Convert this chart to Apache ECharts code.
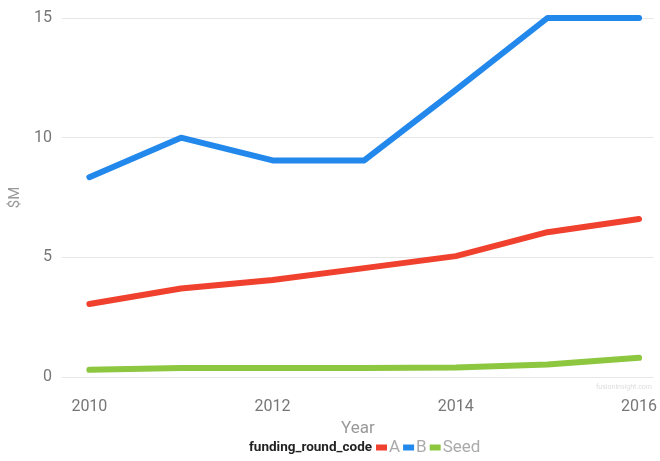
<!DOCTYPE html>
<html>
<head>
<meta charset="utf-8">
<script src="https://cdn.jsdelivr.net/npm/echarts@6/dist/echarts.min.js"></script>
<style>
  html, body { margin: 0; padding: 0; background: #fff; }
  #chart { width: 660px; height: 461px; }
</style>
</head>
<body>
<div id="chart"></div>
<script>
// 数据
var years = [2010, 2011, 2012, 2013, 2014, 2015, 2016];
var seriesA = [3.05, 3.7, 4.05, 4.55, 5.05, 6.05, 6.6];
var seriesB = [8.35, 10.0, 9.05, 9.05, 12.0, 15.0, 15.0];
var seriesSeed = [0.3, 0.38, 0.38, 0.38, 0.4, 0.52, 0.8];
var xTicks = [2010, 2012, 2014, 2016];

function pairs(vals) {
  return years.map(function (y, i) { return [y, vals[i]]; });
}

var myChart = echarts.init(document.getElementById('chart'));
var gray = '#777';

function lineSeries(name, vals, color) {
  return {
    name: name,
    type: 'line',
    data: pairs(vals),
    showSymbol: false,
    symbol: 'none',
    lineStyle: { width: 6, color: color, cap: 'round', join: 'round' },
    itemStyle: { color: color }
  };
}

var option = {
  backgroundColor: '#fff',
  animation: false,
  textStyle: { fontFamily: 'Roboto' },
  grid: { left: 60, right: 5, top: 18, bottom: 84 },
  xAxis: {
    type: 'value',
    min: 2009.7,
    max: 2016.16,
    name: 'Year',
    nameLocation: 'middle',
    nameGap: 42,
    nameTextStyle: { color: '#999', fontSize: 17 },
    axisLine: { show: false },
    axisTick: { show: false },
    splitLine: { show: false },
    axisLabel: {
      customValues: xTicks,
      color: gray,
      fontSize: 16,
      margin: 22,
      formatter: function (v) { return String(v); }
    }
  },
  yAxis: {
    type: 'value',
    min: 0,
    max: 15,
    interval: 5,
    name: '$M',
    nameLocation: 'middle',
    nameGap: 36,
    nameRotate: 90,
    nameTextStyle: { color: '#999', fontSize: 15 },
    axisLine: { show: false },
    axisTick: { show: false },
    axisLabel: { color: gray, fontSize: 16, margin: 10 },
    splitLine: { lineStyle: { color: '#e6e6e6', width: 1 } }
  },
  legend: {
    left: 376,
    top: 439,
    padding: [0, 0, 0, 0],
    itemWidth: 11,
    itemHeight: 6,
    itemGap: 3,
    icon: 'rect',
    textStyle: { color: '#aaa', fontSize: 17, padding: [0, 0, 0, -3] },
    data: ['A', 'B', 'Seed']
  },
  graphic: [
    {
      type: 'text',
      left: 249,
      top: 441,
      style: {
        text: 'funding_round_code',
        font: 'bold 13.5px Roboto',
        fill: '#222'
      }
    },
    {
      type: 'text',
      right: 8,
      top: 384,
      style: {
        text: 'fusioninsight.com',
        font: '7px Roboto',
        fill: '#ddd'
      }
    }
  ],
  series: [
    lineSeries('A', seriesA, '#F0412E'),
    lineSeries('B', seriesB, '#2388EC'),
    lineSeries('Seed', seriesSeed, '#8DC63F')
  ]
};

myChart.setOption(option);
</script>
</body>
</html>
